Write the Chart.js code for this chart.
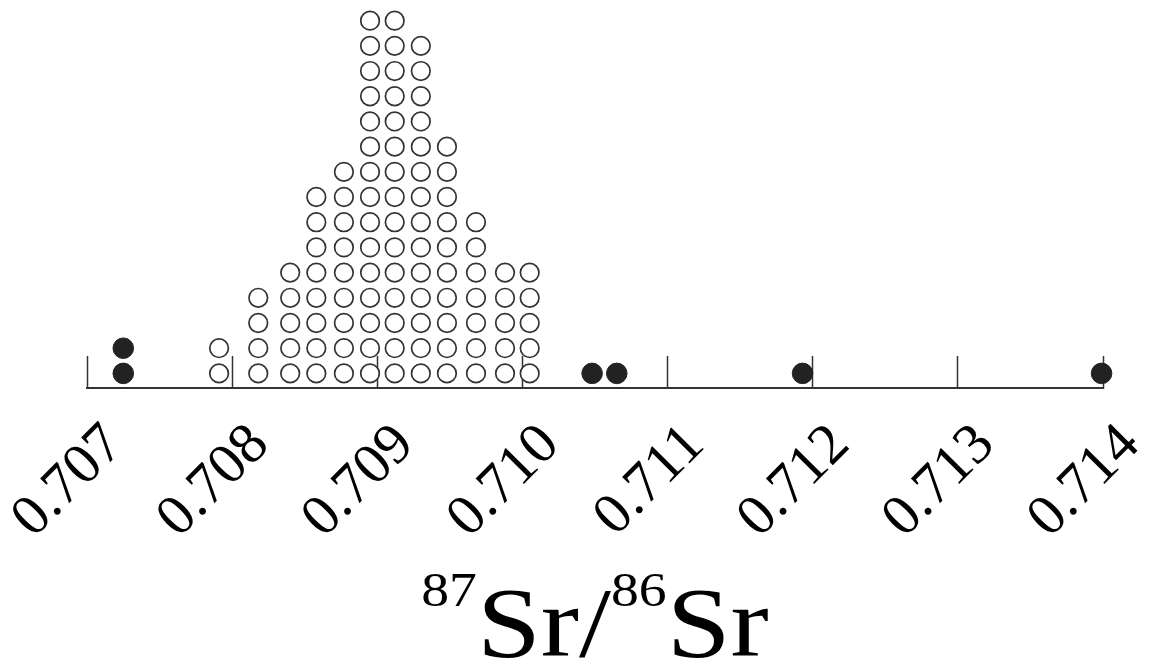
<!DOCTYPE html>
<html>
<head>
<meta charset="utf-8">
<script src="https://cdn.jsdelivr.net/npm/chart.js@4"></script>
<style>
  html, body { margin: 0; padding: 0; background: #fff; }
  canvas { display: block; }
</style>
</head>
<body>
<canvas id="c" width="1149" height="666"></canvas>
<script>
// 87Sr/86Sr of each column of stacked samples (open circles) and their counts
const openValues = [0.70791, 0.70818, 0.70840, 0.70858, 0.70877, 0.70895, 0.70912, 0.70930, 0.70948, 0.70968, 0.70988, 0.71005];
const openCounts = [2, 4, 5, 8, 9, 15, 15, 14, 10, 7, 5, 5];

// Outlying samples (filled circles) and their counts
const filledValues = [0.70725, 0.71048, 0.71065, 0.71193, 0.71399];
const filledCounts = [2, 1, 1, 1, 1];

// Axis ticks
const tickValues = [0.707, 0.708, 0.709, 0.710, 0.711, 0.712, 0.713, 0.714];
const tickLabels = ['0.707', '0.708', '0.709', '0.710', '0.711', '0.712', '0.713', '0.714'];

const SERIF = '"Liberation Serif", "Times New Roman", Times, serif';

// One point per sample, piled up in its column
function pile(values, counts) {
  const pts = [];
  values.forEach((v, i) => {
    for (let k = 1; k <= counts[i]; k++) pts.push({ x: v, y: k });
  });
  return pts;
}

// Axis title with superscript mass numbers
const axisTitle = {
  id: 'axisTitle',
  afterDraw(chart) {
    const ctx = chart.ctx;
    const parts = [
      { t: '87', sup: true }, { t: 'Sr' }, { t: '/' }, { t: '86', sup: true }, { t: 'Sr' }
    ];
    const bigFont = '99px ' + SERIF;
    const supFont = '48px ' + SERIF;
    const stretch = 1.16;
    ctx.save();
    let total = 0;
    parts.forEach(p => {
      ctx.font = p.sup ? supFont : bigFont;
      p.w = ctx.measureText(p.t).width;
      total += p.w;
    });
    const cx = (chart.chartArea.left + chart.chartArea.right) / 2;
    ctx.translate(cx - total * stretch / 2, 656);
    ctx.scale(stretch, 1);
    ctx.fillStyle = '#000';
    ctx.textBaseline = 'alphabetic';
    ctx.textAlign = 'left';
    let x = 0;
    parts.forEach(p => {
      ctx.font = p.sup ? supFont : bigFont;
      ctx.fillText(p.t, x, p.sup ? -50 : 0);
      x += p.w;
    });
    ctx.restore();
  }
};

function draw() {
  new Chart(document.getElementById('c'), {
    type: 'scatter',
    data: {
      datasets: [
        {
          label: 'samples',
          data: pile(openValues, openCounts),
          pointStyle: 'circle',
          pointRadius: 9.3,
          pointBorderWidth: 1.7,
          pointBorderColor: '#333',
          pointBackgroundColor: '#fff',
          clip: false
        },
        {
          label: 'outliers',
          data: pile(filledValues, filledCounts),
          pointStyle: 'circle',
          pointRadius: 10.3,
          pointBorderWidth: 1,
          pointBorderColor: '#222',
          pointBackgroundColor: '#222',
          clip: false
        }
      ]
    },
    options: {
      responsive: false,
      devicePixelRatio: 1,
      animation: false,
      events: [],
      layout: { autoPadding: false, padding: { left: 87, right: 46, top: 0, bottom: 0 } },
      plugins: { legend: { display: false }, tooltip: { enabled: false }, title: { display: false } },
      scales: {
        x: {
          type: 'linear',
          min: 0.707,
          max: 0.714,
          afterBuildTicks: (scale) => { scale.ticks = tickValues.map(v => ({ value: v })); },
          afterFit: (scale) => {
            scale.height = 278;
            scale.paddingLeft = 0;
            scale.paddingRight = 0;
            scale.paddingTop = 0;
            scale.paddingBottom = 0;
          },
          border: { display: true, color: '#333', width: 2 },
          grid: { display: true, drawOnChartArea: false, drawTicks: true, tickLength: -32, tickWidth: 1.5, tickColor: '#333' },
          ticks: {
            autoSkip: false,
            minRotation: 45,
            maxRotation: 45,
            padding: 55,
            labelOffset: 28,
            color: '#000',
            font: { family: SERIF, size: 58 },
            callback: (value, i) => tickLabels[i]
          }
        },
        y: {
          display: false,
          min: 0.42,
          max: 15.82
        }
      }
    },
    plugins: [axisTitle]
  });
}

Promise.all([
  document.fonts.load('58px "Liberation Serif"'),
  document.fonts.load('99px "Liberation Serif"')
]).then(draw, draw);
</script>
</body>
</html>
